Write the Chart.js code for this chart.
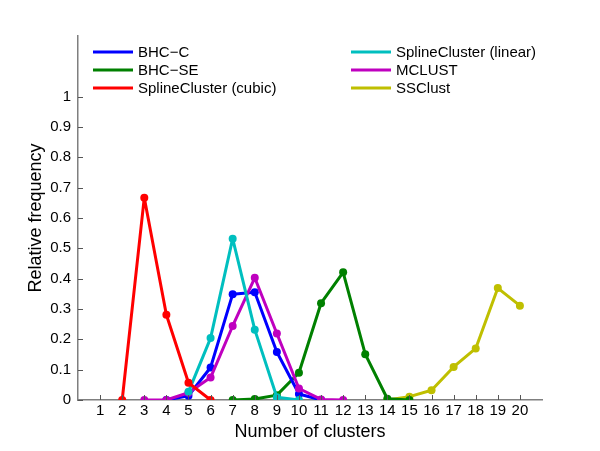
<!DOCTYPE html>
<html><head><meta charset="utf-8">
<script src="https://cdn.jsdelivr.net/npm/chart.js@4/dist/chart.umd.min.js"></script>
<style>html,body{margin:0;padding:0;background:#fff}#w{width:600px;height:451px;position:relative}</style>
</head><body><div id="w"><canvas id="c" width="600" height="451"></canvas></div>
<script>
const xTicks = [1,2,3,4,5,6,7,8,9,10,11,12,13,14,15,16,17,18,19,20];
const yTicks = [0,0.1,0.2,0.3,0.4,0.5,0.6,0.7,0.8,0.9,1];
const labels = ["BHC\u2212C","BHC\u2212SE","SplineCluster (cubic)","SplineCluster (linear)","MCLUST","SSClust"];
const colors = ["#0000ff","#008000","#ff0000","#00bfbf","#bf00bf","#bfbf00"];
const bhcC_x = [4,5,6,7,8,9,10,11];
const bhcC_y = [0,0.014,0.107,0.349,0.355,0.158,0.02,0];
const bhcSE_x = [7,8,9,10,11,12,13,14,15];
const bhcSE_y = [0,0.003,0.016,0.09,0.319,0.421,0.151,0.004,0];
const cubic_x = [2,3,4,5,6];
const cubic_y = [0,0.667,0.281,0.057,0];
const linear_x = [5,6,7,8,9,10];
const linear_y = [0.027,0.204,0.532,0.232,0.009,0];
const mclust_x = [3,4,5,6,7,8,9,10,11,12];
const mclust_y = [0,0,0.024,0.074,0.244,0.403,0.219,0.038,0.002,0];
const ssclust_x = [14,15,16,17,18,19,20];
const ssclust_y = [0,0.011,0.032,0.109,0.17,0.369,0.311];

const xs = [bhcC_x,bhcSE_x,cubic_x,linear_x,mclust_x,ssclust_x];
const ys = [bhcC_y,bhcSE_y,cubic_y,linear_y,mclust_y,ssclust_y];
const drawOrder = [2,3,4,0,1,5];
const datasets = xs.map((x,i)=>({
  label: labels[i],
  data: x.map((v,j)=>({x:v,y:ys[i][j]})),
  borderColor: colors[i], backgroundColor: colors[i],
  borderWidth: 3, borderJoinStyle: 'round', borderCapStyle: 'round',
  pointRadius: 4, pointBorderWidth: 0, pointHoverRadius: 4, tension: 0,
  order: drawOrder.indexOf(i)
}));
const FONT = "'Liberation Sans', Arial, Helvetica, sans-serif";

const extras = {
  id: 'extras',
  afterDraw(chart){
    const ctx = chart.ctx, a = chart.chartArea;
    const xs_ = chart.scales.x, ys_ = chart.scales.y;
    ctx.save();
    ctx.strokeStyle = '#555'; ctx.lineWidth = 1;
    xTicks.forEach(t=>{const p=Math.round(xs_.getPixelForValue(t))+0.5;ctx.beginPath();ctx.moveTo(p,a.bottom);ctx.lineTo(p,a.bottom-5);ctx.stroke();});
    yTicks.forEach(t=>{const p=Math.round(ys_.getPixelForValue(t))+0.5;ctx.beginPath();ctx.moveTo(a.left,p);ctx.lineTo(a.left+5,p);ctx.stroke();});
    // legend, column-major
    ctx.font = '15px ' + FONT; ctx.textBaseline = 'middle'; ctx.fillStyle = '#000';
    chart.data.datasets.forEach((d,i)=>{
      const col = Math.floor(i/3), row = i%3;
      const lx = a.left + 15 + col*258, ly = a.top + 16 + row*18;
      ctx.strokeStyle = d.borderColor; ctx.lineWidth = 3;
      ctx.beginPath(); ctx.moveTo(lx, ly); ctx.lineTo(lx+40, ly); ctx.stroke();
      ctx.fillStyle = '#000'; ctx.fillText(d.label, lx+45, ly+1);
    });
    ctx.restore();
  }
};

new Chart(document.getElementById('c'), {
  type: 'line',
  data: { datasets },
  options: {
    responsive: false, animation: false,
    layout: { padding: { top: 36, right: 58, left: 25, bottom: 8 } },
    plugins: { legend: { display: false }, tooltip: { enabled: false } },
    scales: {
      x: {
        type: 'linear', min: 0, max: 21,
        afterBuildTicks(s){ s.ticks = xTicks.map(v=>({value:v})); },
        afterFit(s){ s.height = 43; },
        grid: { display: false, drawTicks: false },
        border: { color: '#7f7f7f', width: 1.5 },
        ticks: { color: '#000', font: { size: 15, family: FONT }, padding: 2, autoSkip: false, maxRotation: 0 },
        title: { display: true, text: 'Number of clusters', color: '#000', font: { size: 18, family: FONT }, padding: { top: 0, bottom: 0 } }
      },
      y: {
        min: 0, max: 1.2,
        afterBuildTicks(s){ s.ticks = yTicks.map(v=>({value:v})); },
        afterFit(s){ s.width = 53; },
        grid: { display: false, drawTicks: false },
        border: { color: '#7f7f7f', width: 1.5 },
        ticks: { color: '#000', font: { size: 15, family: FONT }, padding: 7, callback: v => String(Math.round(v*10)/10) },
        title: { display: true, text: 'Relative frequency', color: '#000', font: { size: 18, family: FONT }, padding: { top: 0, bottom: 0 } }
      }
    }
  },
  plugins: [extras]
});
</script></body></html>
